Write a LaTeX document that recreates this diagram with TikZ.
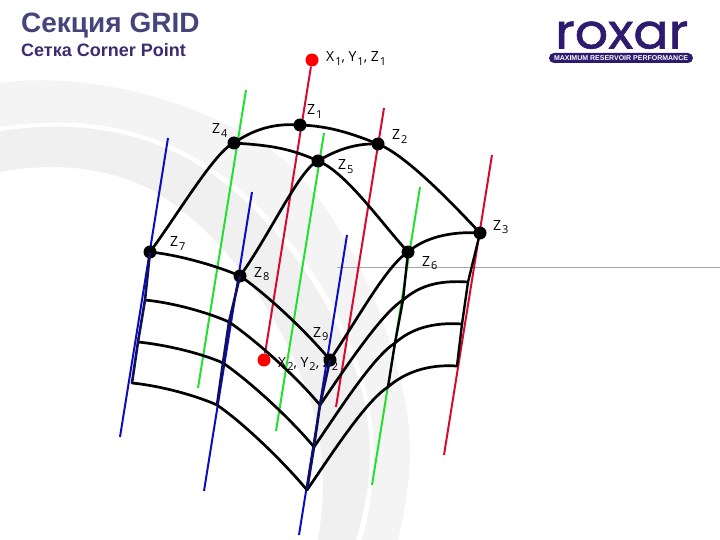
\documentclass[tikz,border=0pt]{standalone}
\usepackage{fontspec}
\setmainfont{Liberation Sans}
\newfontfamily\lblfont{Open Sans}
\newfontfamily\logofont[FakeBold=1.2]{Poppins}
\definecolor{swishA}{HTML}{F4F4F5}
\definecolor{swishB}{HTML}{F0F0F1}
\definecolor{titlecol}{HTML}{45457C}
\definecolor{subcol}{HTML}{3B2C72}
\definecolor{logocol}{HTML}{2E1A6E}
\definecolor{pred}{HTML}{D60A30}
\definecolor{pgreen}{HTML}{22E02E}
\definecolor{pblue}{HTML}{0D0DC0}
\definecolor{navy}{HTML}{10105E}
\newcommand\zlab[2]{#1\kern1pt\raisebox{-3.5pt}{\fontsize{11}{11}\selectfont #2}}
\tikzset{
  dotblk/.style={circle,fill=black,inner sep=0pt,minimum size=13pt},
  dotred/.style={circle,fill=red,inner sep=0pt,minimum size=13pt},
  lbl/.style={anchor=base west,inner sep=0pt,font=\lblfont\fontsize{14}{14}\selectfont,text=black},
  redp/.style={draw=pred,line width=2pt},
  greenp/.style={draw=pgreen,line width=2pt},
  bluep/.style={draw=pblue,line width=2pt},
  layer/.style={draw=black,line width=2.7pt,line cap=round},
  riser/.style={draw=black,line width=2.4pt},
  riserb/.style={draw=navy,line width=2.6pt}
}
\begin{document}
\begin{tikzpicture}[x=1pt,y=-1pt]
\useasboundingbox (0,0) rectangle (720,540);
% background swooshes
\fill[swishA] (0,83) .. controls (60,74) and (170,85) .. (267,147) .. controls (330,190) and (385,300) .. (405,400) .. controls (414,445) and (410,490) .. (398,540) -- (362,540) .. controls (378,480) and (378,430) .. (362,375) .. controls (335,285) and (265,195) .. (190,155) .. controls (125,120) and (60,118) .. (0,127) -- cycle;
\fill[swishB] (0,131) .. controls (60,122) and (125,125) .. (188,159) .. controls (262,200) and (330,290) .. (358,378) .. controls (374,430) and (374,480) .. (356,540) -- (318,540) .. controls (328,480) and (322,430) .. (305,385) .. controls (275,305) and (215,225) .. (150,189) .. controls (100,165) and (50,163) .. (0,172) -- cycle;
\draw[black!35,line width=0.8pt] (337,267.5) -- (720,267.5);
% title
\node[anchor=base west,inner sep=0pt,font=\bfseries\fontsize{28}{28}\selectfont,text=titlecol] (title) at (21,33) {Секция GRID};
\node[anchor=base west,inner sep=0pt,font=\bfseries\fontsize{18}{18}\selectfont,text=subcol] (subtitle) at (21,57) {Сетка Corner Point};
% logo
\node[anchor=base west,inner sep=0pt,text=logocol] (logo) at (555,48.5) {\resizebox{133pt}{27pt}{\raisebox{0pt}[\height][0pt]{\logofont roxar}}};
\node[fill=logocol,rounded corners=5pt,minimum width=144pt,minimum height=10pt,inner sep=0pt,text=white] (strap) at (621,58) {\resizebox{134pt}{!}{\bfseries MAXIMUM RESERVOIR PERFORMANCE}};
% labels
\node[lbl] (lxyz1) at (326,62) {\zlab{X}{1}, \zlab{Y}{1}, \zlab{Z}{1}};
\node[lbl] (lxyz2) at (278,367) {\zlab{X}{2}, \zlab{Y}{2}, \zlab{Z}{2}};
\node[lbl] (lz1) at (307,115) {\zlab{Z}{1}};
\node[lbl] (lz2) at (392,140) {\zlab{Z}{2}};
\node[lbl] (lz3) at (493,230) {\zlab{Z}{3}};
\node[lbl] (lz4) at (212,134) {\zlab{Z}{4}};
\node[lbl] (lz5) at (338,170) {\zlab{Z}{5}};
\node[lbl] (lz6) at (422,266) {\zlab{Z}{6}};
\node[lbl] (lz7) at (170,247) {\zlab{Z}{7}};
\node[lbl] (lz8) at (254,277) {\zlab{Z}{8}};
\node[lbl] (lz9) at (313,337) {\zlab{Z}{9}};
% pillar ends
\coordinate (rb) at (384,108); \coordinate (rbe) at (336,407);
\coordinate (rc) at (492,155); \coordinate (rce) at (444,455);
\coordinate (ga) at (246,90);  \coordinate (gae) at (198,388);
\coordinate (gb) at (324,133); \coordinate (gbe) at (276,431);
\coordinate (gc) at (420,187); \coordinate (gce) at (372,485);
\coordinate (ba) at (168,138); \coordinate (bae) at (120,437);
\coordinate (bb) at (252,192); \coordinate (bbe) at (204,491);
\coordinate (bc) at (347,235); \coordinate (bce) at (299,535);
% nodes
\node[dotred] (pa) at (312,60) {};
\node[dotred] (pb) at (264,360) {};
\draw[redp] (pa) -- (pb);
\draw[redp] (rb) -- (rbe);
\draw[redp] (rc) -- (rce);
\draw[greenp] (ga) -- (gae);
\draw[greenp] (gb) -- (gbe);
\draw[greenp] (gc) -- (gce);
\draw[bluep] (ba) -- (bae);
\draw[bluep] (bb) -- (bbe);
\draw[bluep] (bc) -- (bce);
% grid corners
\node[dotblk] (z1) at (300,125) {};
\node[dotblk] (z2) at (378,144) {};
\node[dotblk] (z3) at (480,233) {};
\node[dotblk] (z4) at (234,143) {};
\node[dotblk] (z5) at (318,161) {};
\node[dotblk] (z6) at (408,252) {};
\node[dotblk] (z7) at (150,252) {};
\node[dotblk] (z8) at (240,276) {};
\node[dotblk] (z9) at (330,360) {};
\coordinate (la) at (145,300); \coordinate (lb) at (138,342); \coordinate (lc) at (132,383);
\coordinate (ma) at (229,322); \coordinate (mb) at (223,363); \coordinate (mc) at (217,405);
\coordinate (ca) at (320,405); \coordinate (cb) at (314,447); \coordinate (cc) at (307,490);
\coordinate (ra) at (403,300); \coordinate (rbb) at (395,343); \coordinate (rcc) at (388,387);
\coordinate (sa) at (468,282); \coordinate (sb) at (462,324); \coordinate (sc) at (457,366);
% top surface
\draw[layer] (z4.center) .. controls +(20,-14) and +(-25,-2) .. (z1.center);
\draw[layer] (z1.center) .. controls +(30,1) and +(-25,-10) .. (z2.center);
\draw[layer] (z4.center) .. controls +(30,2) and +(-30,-14) .. (z5.center);
\draw[layer] (z5.center) .. controls +(18,-11) and +(-22,-1) .. (z2.center);
\draw[layer] (z2.center) .. controls +(28,11) and +(-26,-28) .. (z3.center);
\draw[layer] (z5.center) .. controls +(28,11) and +(-26,-28) .. (z6.center);
\draw[layer] (z7.center) .. controls +(28,-38) and +(-18,7) .. (z4.center);
\draw[layer] (z8.center) .. controls +(28,-38) and +(-18,7) .. (z5.center);
\draw[layer] (z6.center) .. controls +(16,-14) and +(-30,-2) .. (z3.center);
% layers
\draw[layer] (z7.center) .. controls +(30,3) and +(-20,-9) .. (z8.center);
\draw[layer] (la) .. controls +(30,3) and +(-20,-9) .. (ma);
\draw[layer] (lb) .. controls +(30,3) and +(-20,-9) .. (mb);
\draw[layer] (lc) .. controls +(30,3) and +(-20,-9) .. (mc);
\draw[layer] (z8.center) .. controls +(25,17) and +(-25,-30) .. (z9.center);
\draw[layer] (ma) .. controls +(25,17) and +(-25,-30) .. (ca);
\draw[layer] (mb) .. controls +(25,17) and +(-25,-30) .. (cb);
\draw[layer] (mc) .. controls +(25,17) and +(-25,-30) .. (cc);
\draw[layer] (z9.center) .. controls +(26,-38) and +(-22,14) .. (z6.center);
\draw[layer] (ca) .. controls +(26,-38) and +(-22,14) .. (ra);
\draw[layer] (cb) .. controls +(26,-38) and +(-22,14) .. (rbb);
\draw[layer] (cc) .. controls +(26,-38) and +(-22,14) .. (rcc);
\draw[layer] (ra) .. controls +(16,-14) and +(-30,-2) .. (sa);
\draw[layer] (rbb) .. controls +(16,-14) and +(-30,-2) .. (sb);
\draw[layer] (rcc) .. controls +(16,-14) and +(-30,-2) .. (sc);
% risers
\draw[riserb] (z7.center) -- (la) -- (lb) -- (lc);
\draw[riserb] (z8.center) -- (ma) -- (mb) -- (mc);
\draw[riserb] (z9.center) -- (ca) -- (cb) -- (cc);
\draw[riser] (z6.center) -- (ra) -- (rbb) -- (rcc);
\draw[riser] (z3.center) -- (sa) -- (sb) -- (sc);
\end{tikzpicture}
\end{document}
